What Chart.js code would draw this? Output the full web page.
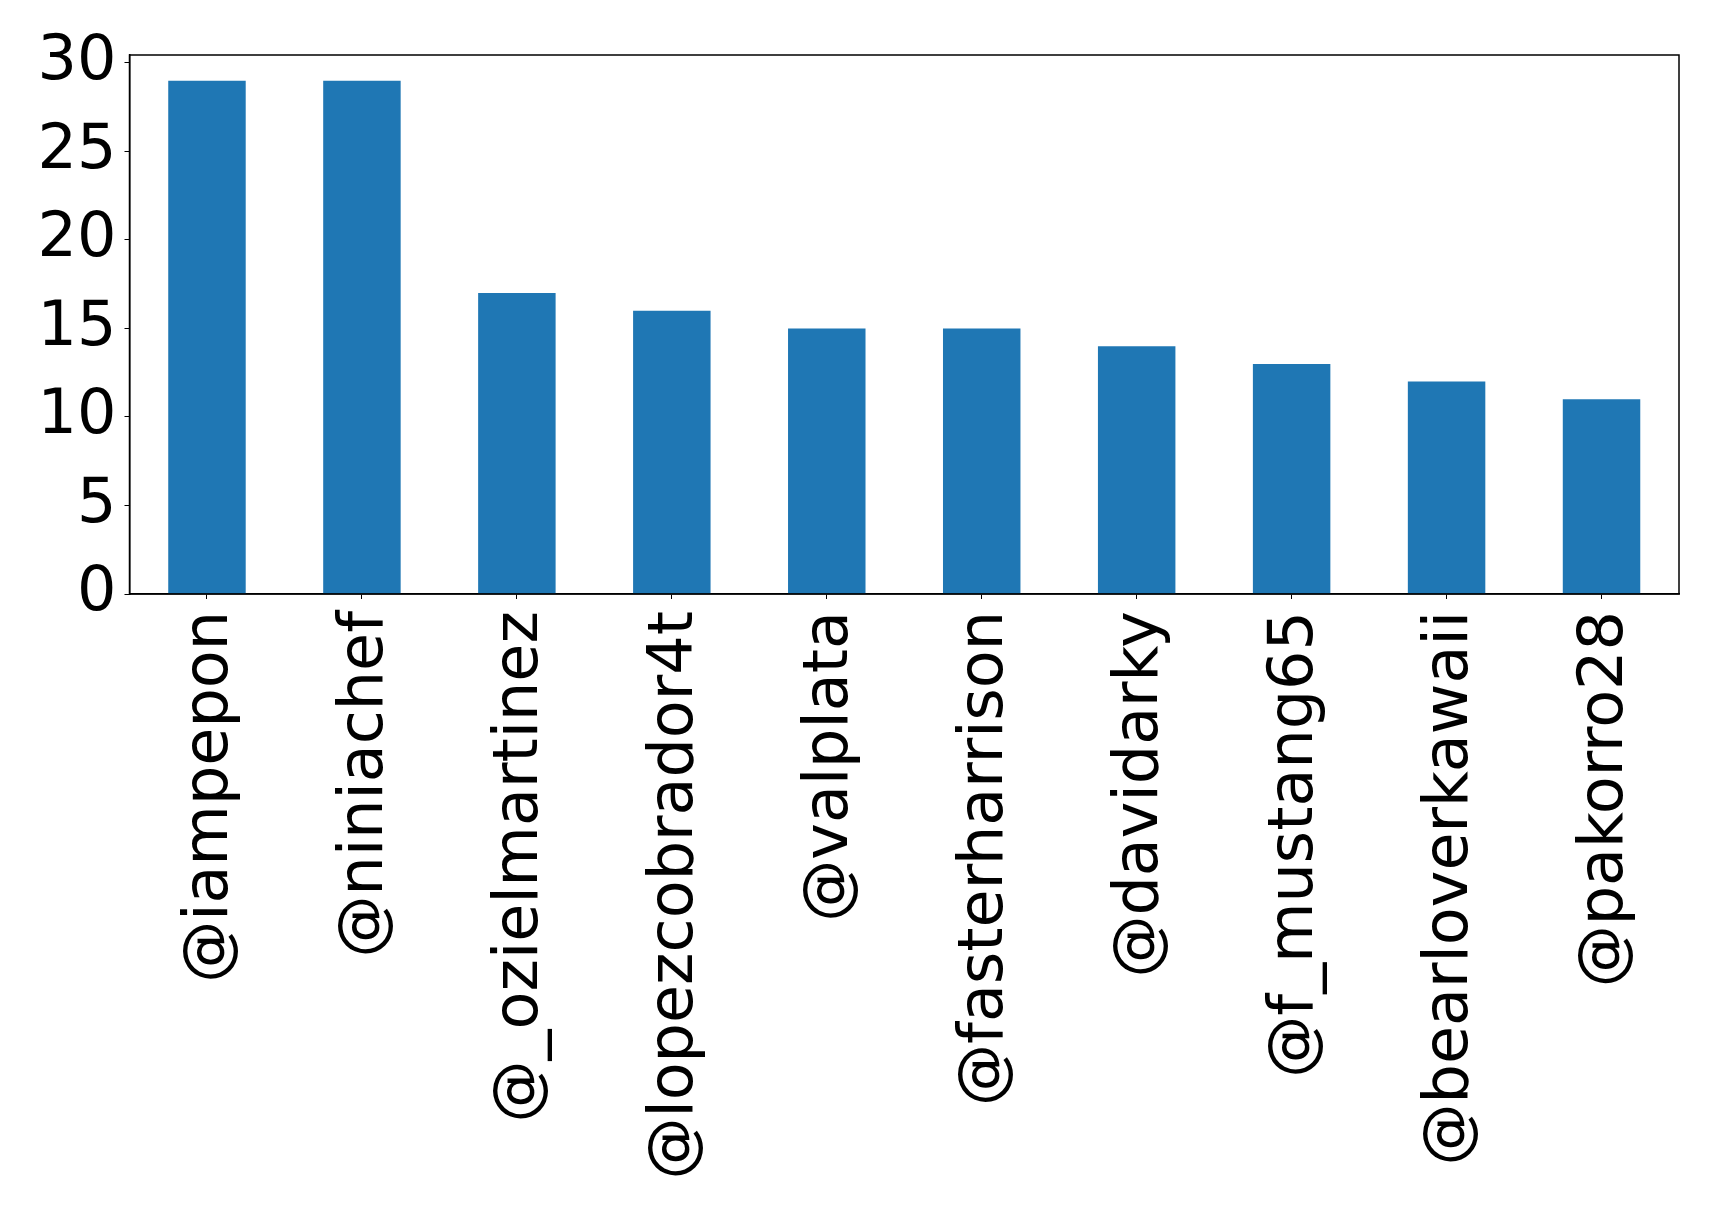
<!DOCTYPE html>
<html>
<head>
<meta charset="utf-8">
<script src="https://cdn.jsdelivr.net/npm/chart.js@4/dist/chart.umd.min.js"></script>
<style>
    body { margin: 0; background: #fff; }
    #wrap { width: 1719px; height: 1217px; }
</style>
</head>
<body>
<div id="wrap"><canvas id="bars" width="1719" height="1217"></canvas></div>
<script>
// data
const users = ['@iampepon', '@niniachef', '@_ozielmartinez', '@lopezcobrador4t', '@valplata',
    '@fasterharrison', '@davidarky', '@f_mustang65', '@bearloverkawaii', '@pakorro28'];
const counts = [29, 29, 17, 16, 15, 15, 14, 13, 12, 11];
const yTicks = [0, 5, 10, 15, 20, 25, 30];

// box round the plot area
const frame = {
    id: 'frame',
    afterDatasetsDraw(chart) {
        const a = chart.chartArea;
        const ctx = chart.ctx;
        ctx.save();
        ctx.strokeStyle = '#000';
        ctx.lineWidth = 1.5;
        ctx.strokeRect(a.left, a.top, a.right - a.left, a.bottom - a.top);
        ctx.restore();
    }
};

const font = { family: "'DejaVu Sans', sans-serif", size: 62 };

new Chart(document.getElementById('bars'), {
    type: 'bar',
    data: {
        labels: users,
        datasets: [{
            data: counts,
            backgroundColor: '#1f77b4',
            barPercentage: 0.5,
            categoryPercentage: 1
        }]
    },
    options: {
        responsive: false,
        devicePixelRatio: 1,
        animation: false,
        layout: { padding: { top: 55, right: 40, bottom: 0, left: 0 } },
        plugins: { legend: { display: false }, tooltip: { enabled: false } },
        scales: {
            x: {
                offset: true,
                grid: { drawOnChartArea: false, drawTicks: true, tickLength: 5, color: '#000', offset: false },
                border: { color: '#000', width: 1.5 },
                ticks: { color: '#000', font: font, minRotation: 90, maxRotation: 90, padding: 12, labelOffset: 4, autoSkip: false },
                afterFit(scale) { scale.height = 1217 - 594; }
            },
            y: {
                min: 0,
                max: 30.45,
                grid: { drawOnChartArea: false, drawTicks: true, tickLength: 5, color: '#000' },
                border: { color: '#000', width: 1.5 },
                ticks: { color: '#000', font: font, padding: 8 },
                afterBuildTicks(scale) { scale.ticks = yTicks.map(v => ({ value: v })); },
                afterFit(scale) { scale.width = 129.5; }
            }
        }
    },
    plugins: [frame]
});
</script>
</body>
</html>
